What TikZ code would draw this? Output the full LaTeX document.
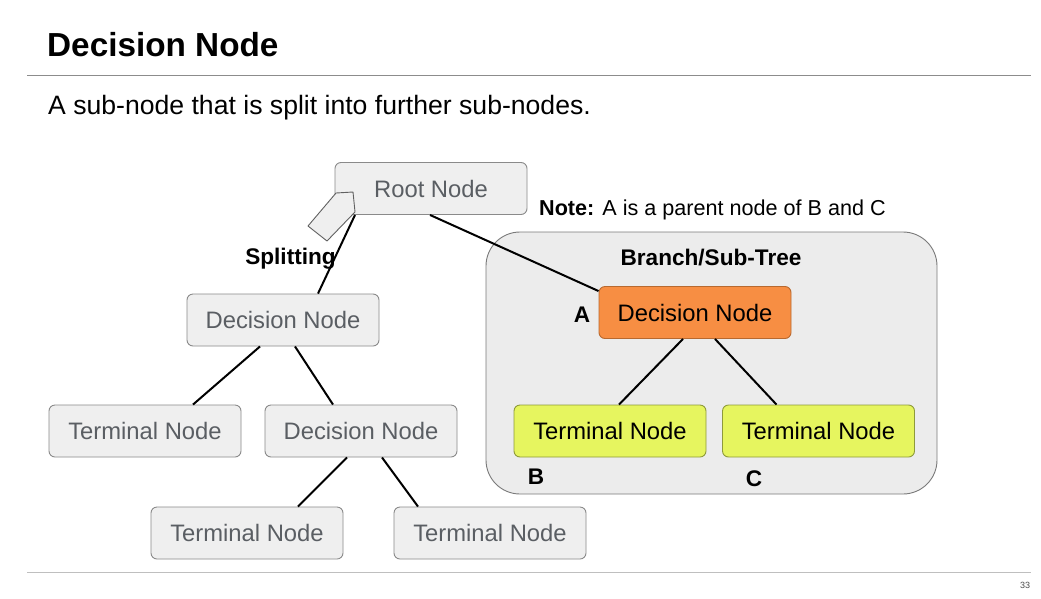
\documentclass[tikz,border=0pt]{standalone}
\usepackage{fontspec}
\setmainfont{Liberation Sans}
\usetikzlibrary{calc}
\definecolor{boxfill}{HTML}{EFEFEF}
\definecolor{boxdraw}{HTML}{8A8A8A}
\definecolor{boxtext}{HTML}{5A5E63}
\definecolor{orangefill}{HTML}{F78E43}
\definecolor{orangedraw}{HTML}{B8692F}
\definecolor{limefill}{HTML}{E6F55F}
\definecolor{limedraw}{HTML}{8E9A3A}
\definecolor{treefill}{HTML}{ECECEC}
\definecolor{treedraw}{HTML}{7A7A7A}
\definecolor{rulegray}{HTML}{8C8C8C}
\begin{document}
\begin{tikzpicture}[x=1pt,y=-1pt,
  nodebox/.style={draw=boxdraw,fill=boxfill,rounded corners=6pt,line width=0.9pt,
    minimum width=192pt,minimum height=52pt,inner sep=0pt,text=boxtext,
    font=\fontsize{23.8}{28}\selectfont},
  orangebox/.style={nodebox,draw=orangedraw,fill=orangefill,text=black},
  limebox/.style={nodebox,draw=limedraw,fill=limefill,text=black},
  edge/.style={draw=black,line width=2pt},
  lbl/.style={font=\fontsize{22.6}{26}\selectfont\bfseries,inner sep=0pt}]
\useasboundingbox (0,0) rectangle (1041,598);
\fill[white] (0,0) rectangle (1041,598);
% header
\node[anchor=base west,inner sep=0pt,font=\fontsize{33.3}{38}\selectfont\bfseries] (title) at (47,56) {Decision Node};
\draw[rulegray,line width=1pt] (27,75) -- (1031,75);
\node[anchor=base west,inner sep=0pt,font=\fontsize{26.6}{30}\selectfont] (sub) at (48,114) {A sub-node that is split into further sub-nodes.};
% subtree panel
\draw[treedraw,fill=treefill,line width=0.9pt,rounded corners=34pt] (486,232) rectangle (937,494);
\node[lbl] (branch) at (711,258) {Branch/Sub-Tree};
% nodes
\node[nodebox] (root) at (431,188.5) {Root Node};
\node[nodebox] (d1) at (283,320) {Decision Node};
\node[nodebox] (t1) at (145,431) {Terminal Node};
\node[nodebox] (d2) at (361,431) {Decision Node};
\node[nodebox] (t2) at (247,533) {Terminal Node};
\node[nodebox] (t3) at (490,533) {Terminal Node};
\node[orangebox] (a) at (695,312.5) {Decision Node};
\node[limebox] (b) at (610,431) {Terminal Node};
\node[limebox] (c) at (818.5,431) {Terminal Node};
% labels
\node[lbl] (split) at (290.5,259) {Splitting};
\node[lbl] (la) at (582,315) {A};
\node[lbl] (lb) at (536,477) {B};
\node[lbl] (lc) at (754,479) {C};
\node[anchor=base west,inner sep=0pt,font=\fontsize{21.6}{26}\selectfont] (note) at (539,215) {\textbf{Note:} A is a parent node of B and C};
% split arrow
\draw[boxdraw!70!black,fill=boxfill,line width=0.9pt,line join=round] (336,193) -- (353,192) -- (355,212) -- (327,241) -- (308,226) -- cycle;
% connectors
\draw[edge] ([xshift=-76pt]root.south) -- ([xshift=35pt]d1.north);
\draw[edge] ([xshift=-1pt]root.south) -- ([yshift=-5pt]a.north west);
\draw[edge] ([xshift=-23pt]d1.south) -- ([xshift=48pt]t1.north);
\draw[edge] ([xshift=12pt]d1.south) -- ([xshift=-28pt]d2.north);
\draw[edge] ([xshift=-14pt]d2.south) -- ([xshift=51pt]t2.north);
\draw[edge] ([xshift=21pt]d2.south) -- ([xshift=-72pt]t3.north);
\draw[edge] ([xshift=-12pt]a.south) -- ([xshift=9pt]b.north);
\draw[edge] ([xshift=20pt]a.south) -- ([xshift=-42pt]c.north);
% footer
\draw[black!25,line width=1pt] (27,572) -- (1031,572);
\node[inner sep=0pt,font=\fontsize{9}{10}\selectfont,text=black!70] (pg) at (1025,585) {33};
\end{tikzpicture}
\end{document}
